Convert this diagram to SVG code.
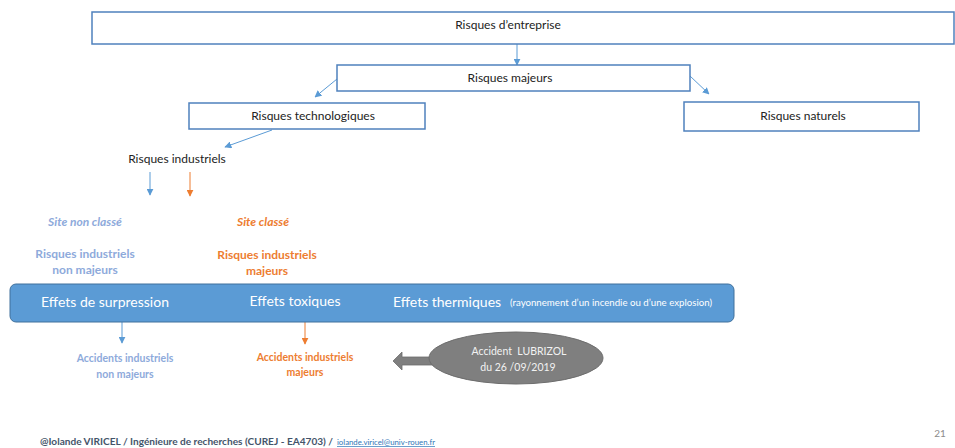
<svg xmlns="http://www.w3.org/2000/svg" width="955" height="448" viewBox="0 0 955 448">
<style>
.box{fill:#fff;stroke:#4f81bd;stroke-width:1.5}
.t{font-family:Lato,"Open Sans",sans-serif;font-size:12px;fill:#222;text-anchor:middle}
.lb{font-family:Lato,"Open Sans",sans-serif;font-size:12px;font-weight:bold;fill:#8eaadb;text-anchor:middle}
.or{font-family:Lato,"Open Sans",sans-serif;font-size:12px;font-weight:bold;fill:#ed7d31;text-anchor:middle}
.w{font-family:Lato,"Open Sans",sans-serif;font-size:14px;fill:#fff;text-anchor:middle}
.cb{stroke:#5b9bd5;stroke-width:1;fill:none}
.co{stroke:#ed7d31;stroke-width:1;fill:none}
</style>
<defs>
<marker id="ab" viewBox="0 0 10 10" refX="9" refY="5" markerWidth="7" markerHeight="7" orient="auto" markerUnits="userSpaceOnUse"><path d="M0,0L10,5L0,10z" fill="#5b9bd5"/></marker>
<marker id="ao" viewBox="0 0 10 10" refX="9" refY="5" markerWidth="7" markerHeight="7" orient="auto" markerUnits="userSpaceOnUse"><path d="M0,0L10,5L0,10z" fill="#ed7d31"/></marker>
</defs>
<rect width="955" height="448" fill="#fff"/>
<g id="connectors">
<line class="cb" x1="517" y1="44" x2="517" y2="65" marker-end="url(#ab)"/>
<line class="cb" x1="337" y1="79" x2="315" y2="97" marker-end="url(#ab)"/>
<line class="cb" x1="690" y1="76" x2="709" y2="94" marker-end="url(#ab)"/>
<line class="cb" x1="272" y1="130" x2="225" y2="147" marker-end="url(#ab)"/>
<line class="cb" x1="150" y1="172" x2="150" y2="195" marker-end="url(#ab)"/>
<line class="co" x1="190" y1="172" x2="190" y2="196" marker-end="url(#ao)"/>
<line class="cb" x1="122" y1="322" x2="122" y2="343" marker-end="url(#ab)"/>
<line class="co" x1="305" y1="322" x2="305" y2="344" marker-end="url(#ao)"/>
</g>
<g id="n-entreprise"><rect class="box" x="92" y="12" width="862" height="32"/><text class="t" x="508" y="29">Risques d’entreprise</text></g>
<g id="n-majeurs"><rect class="box" x="337" y="65" width="353" height="26"/><text class="t" x="510" y="82">Risques majeurs</text></g>
<g id="n-techno"><rect class="box" x="189" y="103" width="236" height="26"/><text class="t" x="313" y="120">Risques technologiques</text></g>
<g id="n-naturels"><rect class="box" x="684" y="102" width="235" height="29"/><text class="t" x="803" y="120">Risques naturels</text></g>
<g id="n-industriels"><text class="t" x="177" y="163">Risques industriels</text></g>
<g id="n-nonclasse"><text class="lb" x="85" y="226" font-style="italic">Site non classé</text></g>
<g id="n-classe"><text class="or" x="263" y="226" font-style="italic">Site classé</text></g>
<g id="n-rinm"><text class="lb" x="85" y="258">Risques industriels</text><text class="lb" x="85" y="274">non majeurs</text></g>
<g id="n-rim"><text class="or" x="267" y="259">Risques industriels</text><text class="or" x="267" y="275">majeurs</text></g>
<g id="n-effets">
<rect x="10" y="284" width="724" height="38" rx="6" fill="#5b9bd5" stroke="#41719c" stroke-width="1"/>
<text class="w" x="105" y="307">Effets de surpression</text>
<text class="w" x="295" y="306">Effets toxiques</text>
<text class="w" x="447" y="307">Effets thermiques</text>
<text x="510" y="306" font-family="Lato,'Open Sans',sans-serif" font-size="8.5" fill="#fff" textLength="202" lengthAdjust="spacingAndGlyphs">(rayonnement d’un incendie ou d’une explosion)</text>
</g>
<g id="n-ainm"><text class="lb" x="125" y="362" style="font-size:10.5px">Accidents industriels</text><text class="lb" x="125" y="378" style="font-size:10.5px">non majeurs</text></g>
<g id="n-aim"><text class="or" x="305" y="361" style="font-size:10.5px">Accidents industriels</text><text class="or" x="305" y="376" style="font-size:10.5px">majeurs</text></g>
<g id="n-lubrizol">
<path d="M393,361 L402,352 L402,357 L434,357 L434,365 L402,365 L402,370 Z" fill="#7f7f7f" stroke="#6d6d6d" stroke-width="0.8"/>
<ellipse cx="516" cy="358" rx="87" ry="26" fill="#7f7f7f" stroke="#6d6d6d" stroke-width="1"/>
<text x="519" y="355" font-family="Lato,'Open Sans',sans-serif" font-size="10.5" fill="#f2f2f2" text-anchor="middle" xml:space="preserve">Accident  LUBRIZOL</text>
<text x="518" y="371" font-family="Lato,'Open Sans',sans-serif" font-size="10.5" fill="#f2f2f2" text-anchor="middle">du 26 /09/2019</text>
</g>
<g id="footer">
<text x="40" y="445" font-family="Lato,'Open Sans',sans-serif" font-size="10" font-weight="bold" fill="#44546a" textLength="293" lengthAdjust="spacingAndGlyphs">@Iolande VIRICEL / Ingénieure de recherches (CUREJ - EA4703) /</text>
<text x="337" y="445" font-family="Lato,'Open Sans',sans-serif" font-size="7" fill="#2e75b6" text-decoration="underline" textLength="98" lengthAdjust="spacingAndGlyphs">iolande.viricel@univ-rouen.fr</text>
<text x="940" y="437" font-family="Lato,'Open Sans',sans-serif" font-size="10" fill="#8c8c8c" text-anchor="middle">21</text>
</g>
</svg>
